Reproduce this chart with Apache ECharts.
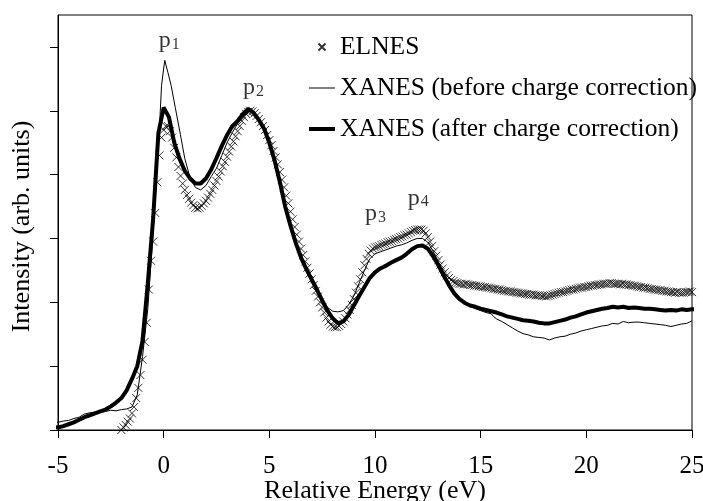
<!DOCTYPE html>
<html>
<head>
<meta charset="utf-8">
<script src="https://cdn.jsdelivr.net/npm/echarts@6.0.0/dist/echarts.min.js"></script>
<style>
  html, body { margin: 0; padding: 0; background: #fff; }
  #main { width: 703px; height: 501px; }
</style>
</head>
<body>
<div id="main"></div>
<script>
// x ticks on the energy axis
var xTicks = [-5, 0, 5, 10, 15, 20, 25];
var yTicks = [0, 1, 2, 3, 4, 5, 6];

// ELNES (crosses) [energy, intensity]
var elnes = [
  [-2.0,0.0],[-1.9,0.04],[-1.8,0.08],[-1.7,0.13],[-1.6,0.18],[-1.5,0.26],[-1.4,0.36],[-1.3,0.5],[-1.2,0.66],[-1.1,0.86],
  [-1.0,1.1],[-0.9,1.38],[-0.8,1.68],[-0.7,2.2],[-0.6,2.65],[-0.5,2.95],[-0.4,3.4],[-0.3,3.88],[-0.2,4.3],[-0.1,4.58],
  [0.0,4.7],[0.1,4.76],[0.2,4.76],[0.3,4.68],[0.4,4.58],[0.5,4.42],[0.6,4.27],[0.7,4.12],[0.8,3.98],[0.9,3.86],
  [1.0,3.76],[1.1,3.68],[1.2,3.62],[1.3,3.56],[1.4,3.52],[1.5,3.48],[1.6,3.47],[1.7,3.48],[1.8,3.51],[1.9,3.55],
  [2.0,3.59],[2.1,3.64],[2.2,3.7],[2.3,3.76],[2.4,3.83],[2.5,3.9],[2.6,3.97],[2.7,4.05],[2.8,4.13],[2.9,4.2],
  [3.0,4.28],[3.1,4.36],[3.2,4.44],[3.3,4.52],[3.4,4.6],[3.5,4.68],[3.6,4.76],[3.7,4.84],[3.8,4.9],[3.9,4.95],
  [4.0,4.98],[4.1,5.0],[4.2,4.99],[4.3,4.96],[4.4,4.92],[4.5,4.87],[4.6,4.82],[4.7,4.76],[4.8,4.7],[4.9,4.62],
  [5.0,4.54],[5.1,4.46],[5.2,4.37],[5.3,4.27],[5.4,4.16],[5.5,4.04],[5.6,3.92],[5.7,3.8],[5.8,3.67],[5.9,3.55],
  [6.0,3.42],[6.1,3.3],[6.2,3.18],[6.3,3.06],[6.4,2.95],[6.5,2.84],[6.6,2.74],[6.7,2.64],[6.8,2.54],[6.9,2.45],
  [7.0,2.36],[7.1,2.27],[7.2,2.18],[7.3,2.09],[7.4,2.0],[7.5,1.92],[7.6,1.84],[7.7,1.76],[7.8,1.7],[7.9,1.65],
  [8.0,1.62],[8.1,1.61],[8.2,1.61],[8.3,1.63],[8.4,1.66],[8.5,1.7],[8.6,1.75],[8.7,1.81],[8.8,1.88],[8.9,1.96],
  [9.0,2.05],[9.1,2.15],[9.2,2.25],[9.3,2.36],[9.4,2.47],[9.5,2.58],[9.6,2.68],[9.7,2.76],[9.8,2.81],[9.9,2.84],
  [10.0,2.86],[10.1,2.87],[10.2,2.88],[10.3,2.9],[10.4,2.91],[10.5,2.92],[10.6,2.94],[10.7,2.95],[10.8,2.96],[10.9,2.98],
  [11.0,2.99],[11.1,3.0],[11.2,3.02],[11.3,3.03],[11.4,3.05],[11.5,3.06],[11.6,3.08],[11.7,3.1],[11.8,3.12],[11.9,3.13],
  [12.0,3.14],[12.1,3.14],[12.2,3.14],[12.3,3.12],[12.4,3.08],[12.5,3.02],[12.6,2.95],[12.7,2.88],[12.8,2.8],[12.9,2.73],
  [13.0,2.66],[13.1,2.59],[13.2,2.53],[13.3,2.47],[13.4,2.42],[13.5,2.38],[13.6,2.35],[13.7,2.33],[13.8,2.31],[13.9,2.3],
  [14.0,2.29],[14.1,2.29],[14.2,2.28],[14.3,2.29],[14.4,2.28],[14.5,2.27],[14.6,2.27],[14.7,2.26],[14.8,2.26],[14.9,2.25],
  [15.0,2.25],[15.1,2.24],[15.2,2.24],[15.3,2.23],[15.4,2.23],[15.5,2.22],[15.6,2.21],[15.7,2.21],[15.8,2.2],[15.9,2.2],
  [16.0,2.19],[16.1,2.18],[16.2,2.18],[16.3,2.17],[16.4,2.17],[16.5,2.16],[16.6,2.16],[16.7,2.15],[16.8,2.15],[16.9,2.14],
  [17.0,2.14],[17.1,2.13],[17.2,2.13],[17.3,2.12],[17.4,2.12],[17.5,2.12],[17.6,2.11],[17.7,2.11],[17.8,2.11],[17.9,2.1],
  [18.0,2.1],[18.1,2.09],[18.2,2.1],[18.3,2.11],[18.4,2.12],[18.5,2.13],[18.6,2.14],[18.7,2.15],[18.8,2.16],[18.9,2.16],
  [19.0,2.17],[19.1,2.18],[19.2,2.19],[19.3,2.2],[19.4,2.2],[19.5,2.21],[19.6,2.22],[19.7,2.23],[19.8,2.23],[19.9,2.24],
  [20.0,2.24],[20.1,2.25],[20.2,2.26],[20.3,2.26],[20.4,2.27],[20.5,2.27],[20.6,2.28],[20.7,2.28],[20.8,2.29],[20.9,2.29],
  [21.0,2.29],[21.1,2.3],[21.2,2.3],[21.3,2.29],[21.4,2.29],[21.5,2.29],[21.6,2.28],[21.7,2.29],[21.8,2.28],[21.9,2.28],
  [22.0,2.27],[22.1,2.27],[22.2,2.26],[22.3,2.26],[22.4,2.25],[22.5,2.24],[22.6,2.24],[22.7,2.23],[22.8,2.23],[22.9,2.22],
  [23.0,2.21],[23.1,2.21],[23.2,2.2],[23.3,2.2],[23.4,2.19],[23.5,2.19],[23.6,2.18],[23.7,2.18],[23.8,2.17],[23.9,2.17],
  [24.0,2.16],[24.1,2.16],[24.2,2.15],[24.3,2.16],[24.4,2.15],[24.5,2.15],[24.6,2.15],[24.7,2.16],[24.8,2.16],[24.9,2.17],
  [25.0,2.16]
];

// XANES before charge correction (thin line)
var xanesBefore = [
  [-5.3,0.12],[-5.0,0.12],[-4.75,0.14],[-4.5,0.15],[-4.25,0.18],[-4.0,0.2],[-3.75,0.25],[-3.5,0.27],[-3.25,0.28],[-3.0,0.28],
  [-2.75,0.29],[-2.5,0.31],[-2.25,0.3],[-2.0,0.32],[-1.75,0.33],[-1.5,0.36],[-1.25,0.55],[-1.0,1.15],[-0.75,1.9],[-0.5,3.1],
  [-0.25,4.4],[-0.1,5.4],[0.05,5.79],[0.2,5.6],[0.35,5.4],[0.55,5.05],[0.79,4.63],[1.0,4.25],[1.25,3.95],[1.5,3.8],
  [1.75,3.76],[2.0,3.83],[2.25,3.97],[2.5,4.1],[2.75,4.3],[3.0,4.5],[3.25,4.66],[3.5,4.8],[3.75,4.93],[4.0,5.0],
  [4.25,4.97],[4.5,4.88],[4.75,4.74],[5.0,4.55],[5.25,4.25],[5.5,3.9],[5.75,3.52],[6.0,3.22],[6.25,2.95],[6.5,2.72],
  [6.75,2.53],[7.0,2.36],[7.25,2.2],[7.5,2.06],[7.75,1.92],[8.0,1.86],[8.25,1.85],[8.5,1.87],[8.75,1.96],[9.0,2.1],
  [9.25,2.3],[9.5,2.5],[9.75,2.68],[10.0,2.76],[10.25,2.79],[10.5,2.82],[10.75,2.85],[11.0,2.88],[11.25,2.9],[11.5,2.93],
  [11.75,2.97],[12.0,3.0],[12.25,3.0],[12.5,2.94],[12.75,2.8],[13.0,2.63],[13.25,2.45],[13.5,2.28],[13.75,2.15],[14.0,2.05],
  [14.25,1.99],[14.5,1.94],[14.75,1.9],[15.0,1.87],[15.25,1.84],[15.5,1.82],[15.6,1.78],[15.75,1.74],[16.0,1.7],[16.25,1.65],
  [16.5,1.6],[16.75,1.55],[17.0,1.51],[17.25,1.49],[17.5,1.46],[17.75,1.45],[18.0,1.44],[18.25,1.41],[18.5,1.44],[18.75,1.46],
  [19.0,1.47],[19.25,1.5],[19.5,1.52],[19.75,1.55],[20.0,1.57],[20.25,1.59],[20.5,1.61],[20.75,1.63],[21.0,1.64],[21.25,1.67],
  [21.5,1.66],[21.75,1.7],[22.0,1.68],[22.25,1.69],[22.5,1.69],[22.75,1.68],[23.0,1.67],[23.25,1.66],[23.5,1.65],[23.75,1.64],
  [24.0,1.62],[24.25,1.64],[24.5,1.66],[24.75,1.67],[25.0,1.71]
];

// XANES after charge correction (thick line)
var xanesAfter = [
  [-5.3,0.05],[-5.0,0.04],[-4.75,0.06],[-4.5,0.09],[-4.25,0.12],[-4.0,0.16],[-3.75,0.2],[-3.5,0.23],[-3.25,0.26],[-3.0,0.29],
  [-2.75,0.32],[-2.5,0.37],[-2.25,0.43],[-2.0,0.5],[-1.75,0.62],[-1.5,0.8],[-1.25,1.0],[-1.0,1.4],[-0.75,2.3],[-0.5,3.3],
  [-0.25,4.65],[0.0,5.05],[0.25,4.9],[0.5,4.5],[0.75,4.25],[1.0,4.06],[1.25,3.94],[1.5,3.86],[1.75,3.86],[2.0,3.94],
  [2.25,4.08],[2.5,4.26],[2.75,4.45],[3.0,4.62],[3.25,4.76],[3.5,4.84],[3.75,4.95],[4.0,5.03],[4.25,4.97],[4.5,4.86],
  [4.75,4.72],[5.0,4.5],[5.25,4.22],[5.5,3.88],[5.75,3.5],[6.0,3.2],[6.25,2.93],[6.5,2.7],[6.75,2.52],[7.0,2.36],
  [7.25,2.2],[7.5,2.03],[7.75,1.87],[8.0,1.75],[8.25,1.67],[8.5,1.7],[8.75,1.8],[9.0,1.95],[9.25,2.1],[9.5,2.24],
  [9.75,2.38],[10.0,2.47],[10.25,2.53],[10.5,2.57],[10.75,2.62],[11.0,2.66],[11.25,2.7],[11.5,2.76],[11.75,2.83],[12.0,2.88],
  [12.25,2.89],[12.5,2.84],[12.75,2.72],[13.0,2.58],[13.25,2.42],[13.5,2.27],[13.75,2.14],[14.0,2.05],[14.25,1.99],[14.5,1.95],
  [14.75,1.93],[15.0,1.9],[15.25,1.88],[15.5,1.86],[15.75,1.84],[16.0,1.81],[16.25,1.78],[16.5,1.76],[16.75,1.74],[17.0,1.72],
  [17.25,1.71],[17.5,1.7],[17.75,1.68],[18.0,1.67],[18.25,1.67],[18.5,1.69],[18.75,1.71],[19.0,1.73],[19.25,1.76],[19.5,1.78],
  [19.75,1.81],[20.0,1.84],[20.25,1.86],[20.5,1.88],[20.75,1.9],[21.0,1.91],[21.25,1.93],[21.5,1.92],[21.75,1.93],[22.0,1.91],
  [22.25,1.92],[22.5,1.91],[22.75,1.9],[23.0,1.9],[23.25,1.89],[23.5,1.88],[23.75,1.87],[24.0,1.88],[24.25,1.87],[24.5,1.89],
  [24.75,1.88],[25.0,1.89],[25.25,1.89]
];

// peak labels p1..p4 and where they sit
var peakNames = ['1', '2', '3', '4'];
var peakPos = [[0.27, 6.09], [4.25, 5.36], [10.02, 3.39], [12.05, 3.63]];

var FONT = "'Liberation Serif', 'Times New Roman', serif";
var crossPath = 'path://M0,0L10,10M10,0L0,10';
// line legend entries: hide the marker, keep the line
var hiddenMarker = { color: 'rgba(0,0,0,0)', borderColor: 'rgba(0,0,0,0)', borderWidth: 0 };

var chart = echarts.init(document.getElementById('main'));

var option = {
  backgroundColor: '#fff',
  animation: false,
  textStyle: { fontFamily: FONT, color: '#000' },
  grid: {
    left: 58, right: 11, top: 15, bottom: 71,
    outerBoundsMode: 'none',
    containLabel: false,
    show: true, borderColor: '#000', borderWidth: 1
  },
  legend: {
    orient: 'vertical',
    left: 307, top: 34, padding: 0,
    itemWidth: 26, itemHeight: 14, itemGap: 15,
    textStyle: { fontFamily: FONT, fontSize: 25.5, color: '#000' },
    data: [
      { name: 'ELNES', icon: 'path://M0,0L0,0M9.5,3.5L16.5,10.5M16.5,3.5L9.5,10.5M26,14L26,14' },
      { name: 'XANES (before charge correction)', itemStyle: hiddenMarker, lineStyle: { color: '#000', width: 1 } },
      { name: 'XANES (after charge correction)', itemStyle: hiddenMarker, lineStyle: { color: '#000', width: 4 } }
    ]
  },
  xAxis: {
    type: 'value',
    min: -5, max: 25, interval: 5,
    name: 'Relative Energy (eV)',
    nameLocation: 'middle', nameGap: 48,
    nameMoveOverlap: false,
    nameTextStyle: { fontFamily: FONT, fontSize: 26, color: '#000' },
    axisLine: { onZero: false, lineStyle: { color: '#000', width: 1 } },
    axisTick: { inside: false, length: 8, lineStyle: { color: '#000' } },
    axisLabel: { fontFamily: FONT, fontSize: 25, color: '#000', margin: 24 },
    splitLine: { show: false }
  },
  yAxis: {
    type: 'value',
    min: 0, max: 6.5, interval: 1,
    name: 'Intensity (arb. units)',
    nameLocation: 'middle', nameGap: 23,
    nameMoveOverlap: false,
    nameTextStyle: { fontFamily: FONT, fontSize: 26, color: '#000', padding: [0, 8, 0, 0] },
    axisLine: { onZero: false, lineStyle: { color: '#000', width: 1 } },
    axisTick: { inside: false, length: 8, lineStyle: { color: '#000' }, customValues: yTicks },
    axisLabel: { show: false },
    splitLine: { show: false }
  },
  series: [
    {
      name: 'ELNES',
      type: 'scatter',
      data: elnes,
      symbol: crossPath,
      symbolSize: 8,
      itemStyle: { color: 'rgba(0,0,0,0)', borderColor: '#000', borderWidth: 1 },
      z: 2
    },
    {
      name: 'XANES (before charge correction)',
      type: 'line',
      data: xanesBefore,
      showSymbol: false, symbol: 'none',
      clip: false,
      lineStyle: { color: '#000', width: 1 },
      itemStyle: { color: '#000' },
      z: 3
    },
    {
      name: 'XANES (after charge correction)',
      type: 'line',
      data: xanesAfter,
      showSymbol: false, symbol: 'none',
      clip: false,
      lineStyle: { color: '#000', width: 4 },
      itemStyle: { color: '#000' },
      z: 4
    },
    {
      name: 'peaks',
      type: 'scatter',
      symbolSize: 1,
      itemStyle: { color: 'rgba(0,0,0,0)' },
      data: peakPos.map(function (p, i) { return { value: p, name: peakNames[i] }; }),
      label: {
        show: true,
        position: 'inside',
        formatter: function (p) { return '{a|p}{b|' + p.name + '}'; },
        rich: {
          a: { fontFamily: FONT, fontSize: 24, color: '#000', lineHeight: 24, verticalAlign: 'bottom' },
          b: { fontFamily: FONT, fontSize: 16, color: '#000', lineHeight: 16, verticalAlign: 'bottom', padding: [0, 0, 0, 1] }
        }
      },
      z: 5
    }
  ]
};

chart.setOption(option);
</script>
</body>
</html>
